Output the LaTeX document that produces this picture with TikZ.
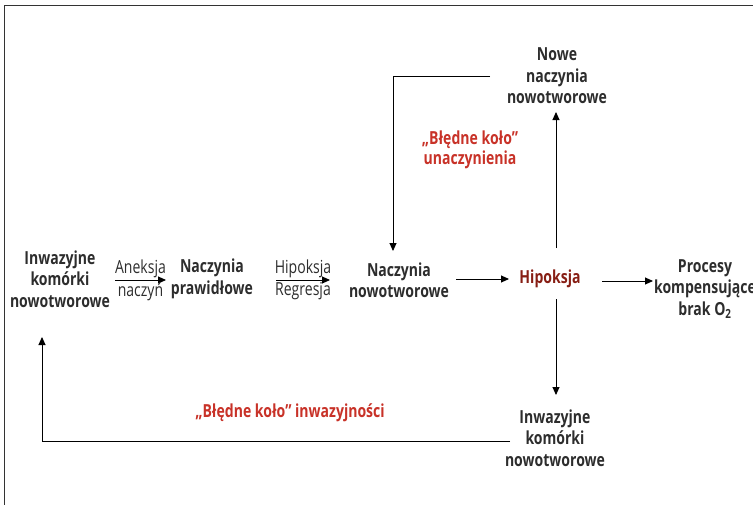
\documentclass[tikz,border=0pt]{standalone}
\usepackage{fontspec}
\setmainfont[FakeStretch=0.78]{Open Sans}
\usetikzlibrary{arrows.meta}
\definecolor{txt}{RGB}{45,45,45}
\definecolor{redt}{RGB}{200,50,40}
\definecolor{darkr}{RGB}{135,30,20}
\tikzset{
  box/.style={align=center, text=txt, font=\fontsize{18}{21.5}\selectfont\bfseries, inner sep=2pt},
  lbl/.style={text=txt, font=\fontsize{18}{21.5}\selectfont, inner sep=1pt},
  redlbl/.style={align=center, text=redt, font=\fontsize{18}{20.5}\selectfont\bfseries},
  arr/.style={-{Triangle[length=8pt,width=7pt]}, line width=0.9pt, draw=black},
}
\begin{document}
\begin{tikzpicture}[x=1pt,y=-1pt]
\useasboundingbox (0,0) rectangle (753,504);
\draw[line width=1pt, draw=black!80] (4,520) -- (4,5) -- (770,5);
\node[box] (inw) at (60,279) {Inwazyjne\\komórki\\nowotworowe};
\node[box] (npraw) at (212,279) {Naczynia\\prawidłowe};
\node[box] (nnow) at (399,280) {Naczynia\\nowotworowe};
\node[box, text=darkr] (hip) at (550,279) {Hipoksja};
\node[box] (proc) at (705,289) {Procesy\\kompensujące\\brak O\textsubscript{2}};
\node[box] (nowe) at (557,76) {Nowe\\naczynia\\nowotworowe};
\node[box] (inw2) at (555,438) {Inwazyjne\\komórki\\nowotworowe};
\node[redlbl] (bk1) at (470,150) {„Błędne koło”\\unaczynienia};
\node[redlbl] (bk2) at (290,413) {„Błędne koło” inwazyjności};
\coordinate (a1) at (115,280);
\coordinate (a2) at (166,280);
\coordinate (h1) at (276,280);
\coordinate (h2) at (330,280);
\coordinate (n1) at (456,279);
\coordinate (n2) at (509,279);
\coordinate (p1) at (602,281);
\coordinate (p2) at (653,281);
\coordinate (u1) at (556,248);
\coordinate (u2) at (556,112);
\coordinate (d1) at (556,299);
\coordinate (d2) at (556,395);
\coordinate (t1) at (490,76);
\coordinate (c1) at (393,76);
\coordinate (t2) at (393,251);
\coordinate (b1) at (510,441);
\coordinate (c2) at (42,441);
\coordinate (b2) at (42,337);
\draw[arr] (a1) -- node[lbl, above=1pt]{Aneksja} node[lbl, below=1pt]{naczyń} (a2);
\draw[arr] (h1) -- node[lbl, above=1pt]{Hipoksja} node[lbl, below=1pt]{Regresja} (h2);
\draw[arr] (n1) -- (n2);
\draw[arr] (p1) -- (p2);
\draw[arr] (u1) -- (u2);
\draw[arr] (d1) -- (d2);
\draw[arr] (t1) -- (c1) -- (t2);
\draw[arr] (b1) -- (c2) -- (b2);
\end{tikzpicture}
\end{document}
